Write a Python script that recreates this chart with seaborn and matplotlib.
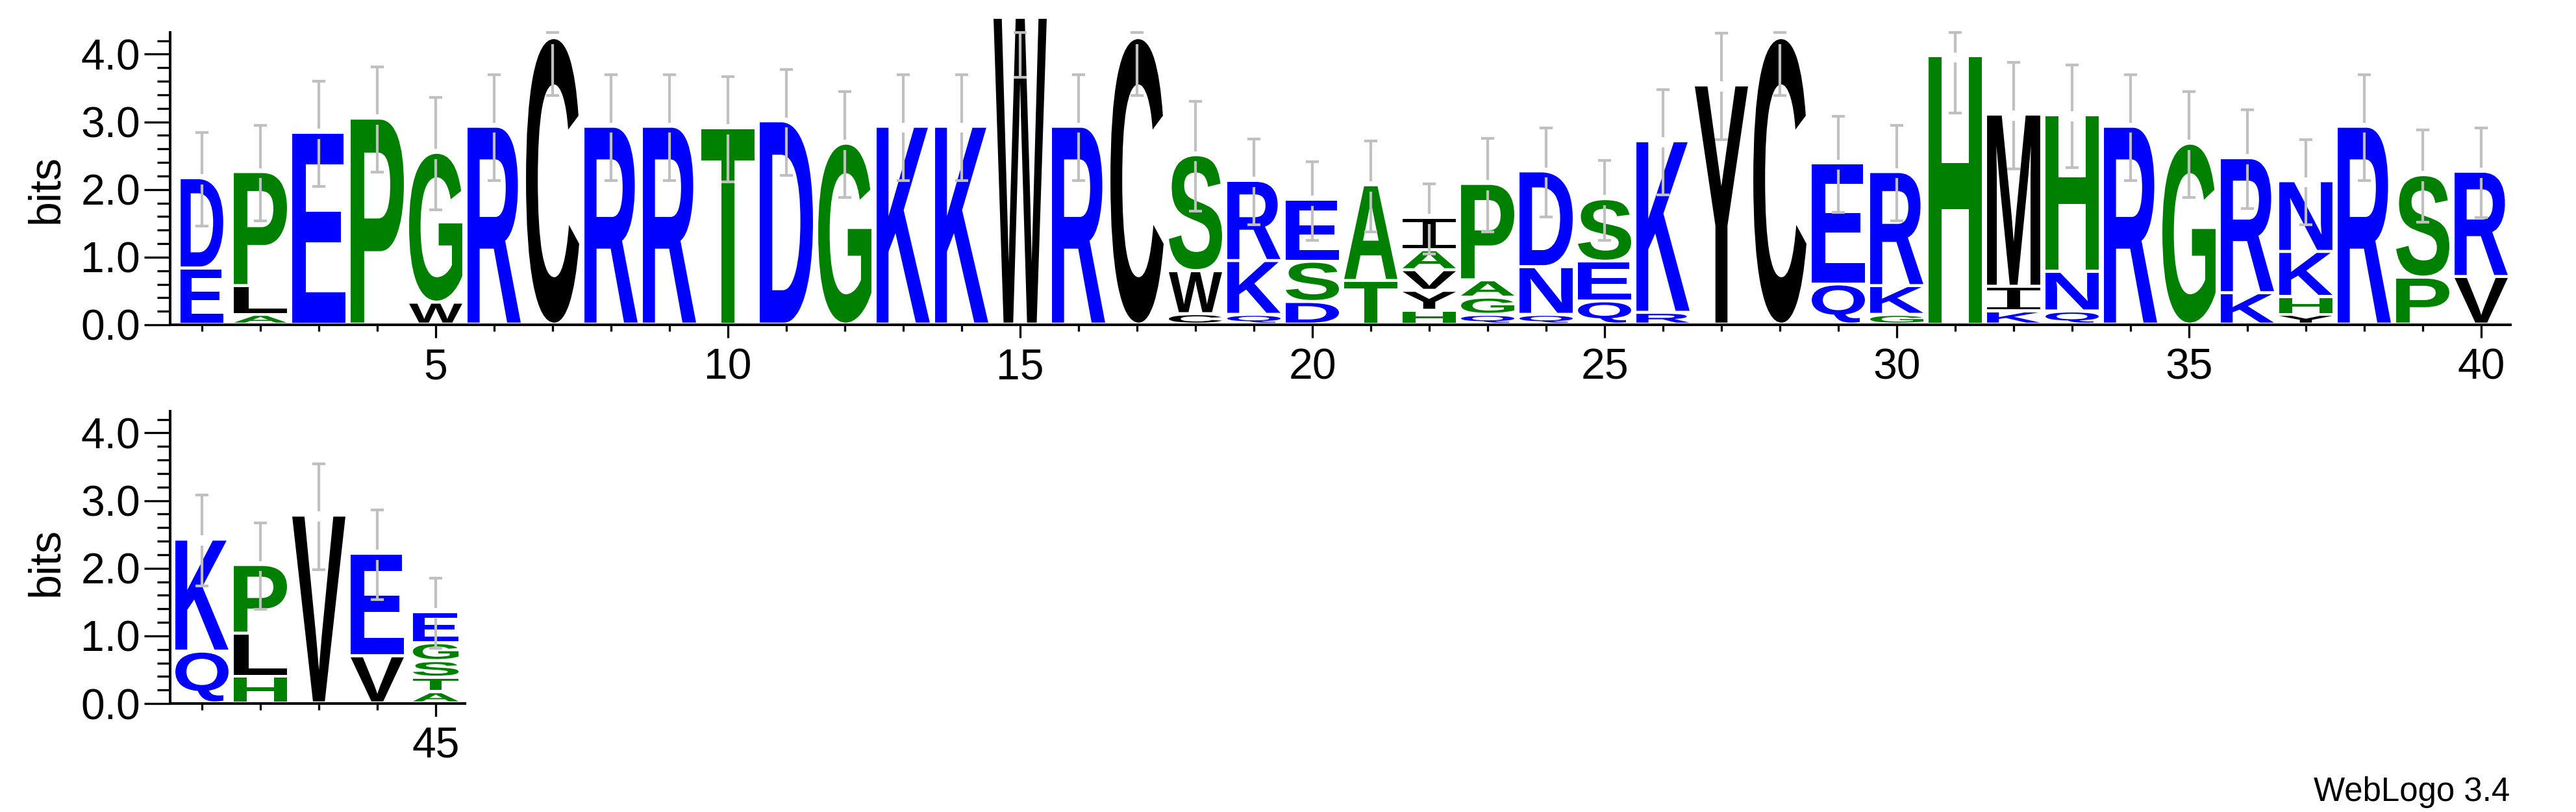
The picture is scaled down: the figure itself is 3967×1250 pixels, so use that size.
import matplotlib
matplotlib.use("Agg")
import numpy as np
import pandas as pd
import seaborn as sns
import matplotlib.pyplot as plt
from matplotlib.textpath import TextPath
from matplotlib.patches import PathPatch
from matplotlib.font_manager import FontProperties
from matplotlib.transforms import Affine2D
from matplotlib.ticker import FixedLocator, MultipleLocator

# ---------------- data ----------------
positions = list(range(1, 46))

# letters of each stack, bottom -> top
stack_letters = [
    "ED", "ALP", "E", "P", "WG", "R", "C", "R", "R", "T",
    "D", "G", "K", "K", "W", "R", "C", "CWS", "QKR", "DSE",
    "TA", "HYVAI", "QGAP", "QND", "QES", "RK", "Y", "C", "QE", "GKR",
    "H", "KIM", "QNH", "R", "G", "KR", "YHKN", "R", "PS", "VR",
    "QK", "HLP", "V", "VE", "ATSGE",
]

# height (bits) of each letter, bottom -> top
stack_heights = [
    [0.785, 1.29], [0.10, 0.38, 1.64], [2.79], [3.00], [0.28, 2.17],
    [2.88], [4.19], [2.88], [2.88], [2.86],
    [2.96], [2.63], [2.88], [2.88], [4.49],
    [2.88], [4.19], [0.11, 0.59, 1.67], [0.10, 0.75, 1.14], [0.29, 0.55, 0.87],
    [0.60, 1.37], [0.16, 0.25, 0.26, 0.25, 0.43], [0.10, 0.21, 0.21, 1.38],
    [0.10, 0.66, 1.37], [0.30, 0.54, 0.88],
    [0.13, 2.49], [3.49], [4.19], [0.55, 1.74], [0.10, 0.38, 1.64],
    [3.92], [0.15, 0.32, 2.50], [0.15, 0.54, 2.27], [2.88], [2.63],
    [0.42, 1.95], [0.10, 0.22, 0.62, 1.00], [2.88], [0.65, 1.47], [0.66, 1.51],
    [0.72, 1.61], [0.35, 0.59, 0.97], [2.73], [0.65, 1.47],
    [0.12, 0.17, 0.20, 0.22, 0.41],
]

# error bar half-lengths (bits)
error_bits = [
    0.69, 0.71, 0.78, 0.78, 0.83, 0.78, 0.83, 0.78, 0.78, 0.78,
    0.785, 0.785, 0.78, 0.78, 0.86, 0.78, 0.83, 0.81, 0.63, 0.58,
    0.67, 0.52, 0.69, 0.66, 0.59, 0.78, 0.79, 0.83, 0.71, 0.71,
    0.82, 0.79, 0.76, 0.78, 0.785, 0.73, 0.63, 0.78, 0.68, 0.665,
    0.67, 0.64, 0.78, 0.66, 0.52,
]

# stack width as a fraction of the full width (gap-weighted columns)
width_fraction = [0.80] + [1.0] * 43 + [0.86]

row_ranges = [(1, 40), (41, 45)]
ytick_labels = ["0.0", "1.0", "2.0", "3.0", "4.0"]
ylabel_text = "bits"
footer_text = "WebLogo 3.4"

colour_groups = {
    "#0000FF": "DEKRQN",
    "#008000": "PGSTAH",
    "#000000": "CWLVYIMF",
}

# ---------------- tidy table ----------------
records = []
for pos, letters, heights, w in zip(positions, stack_letters, stack_heights, width_fraction):
    for ch, h in zip(letters, heights):
        records.append({"position": pos, "letter": ch, "bits": h, "width": w})
df = pd.DataFrame(records)
colour_of = {ch: col for col, chars in colour_groups.items() for ch in chars}

# ---------------- style ----------------
sns.set_theme(style="ticks")
plt.rcParams["font.family"] = ["Liberation Sans", "DejaVu Sans"]

W_PX, H_PX, DPI = 3967, 1250, 100
PT = 72.0 / DPI  # points per pixel

fig = plt.figure(figsize=(W_PX / DPI, H_PX / DPI), dpi=DPI)
fig.patch.set_facecolor("white")

col_px = 90.0
ax_h_px = 450.0
row_bottoms_px = [500.0, 1083.0]
left_px = 266.0

glyph_font = FontProperties(family="Liberation Sans", weight="bold")
glyph_font_special = {"I": FontProperties(family="DejaVu Sans Mono", weight="normal")}
BASE = 0.032
GAP = 0.045
FULL_W = 0.91
YMAX = 4.32
ERR_GAP = 0.075
CAP_HALF = 0.115
ERR_COLOR = "#c0c0c0"


def letter_patch(ch, x0, y0, w, h, color):
    tp = TextPath((0, 0), ch, size=1, prop=glyph_font_special.get(ch, glyph_font))
    ext = tp.get_extents()
    tr = (Affine2D().translate(-ext.x0, -ext.y0)
          .scale(w / ext.width, h / ext.height)
          .translate(x0, y0))
    return PathPatch(tr.transform_path(tp), facecolor=color, edgecolor="none",
                     lw=0, clip_on=False, zorder=2)


axes = []
for (p0, p1), bottom_px in zip(row_ranges, row_bottoms_px):
    n = p1 - p0 + 1
    ax = fig.add_axes([left_px / W_PX, (H_PX - bottom_px) / H_PX,
                       n * col_px / W_PX, ax_h_px / H_PX])
    axes.append(ax)
    sub = df[(df.position >= p0) & (df.position <= p1)]
    for pos, grp in sub.groupby("position", sort=True):
        i = pos - 1
        w = FULL_W * width_fraction[i]
        base = BASE
        for _, r in grp.iterrows():
            ax.add_patch(letter_patch(r.letter, pos - w / 2, base, w, r.bits,
                                      colour_of[r.letter]))
            base += r.bits + GAP
        top = base - GAP
        err = error_bits[i]
        hi = min(top + err, YMAX)
        lo = top - err
        seg_top_start = top + ERR_GAP
        if seg_top_start < hi:
            ax.vlines(pos, seg_top_start, hi, colors=ERR_COLOR, lw=4.2 * PT,
                      zorder=3, clip_on=False)
        ax.vlines(pos, lo, min(top - ERR_GAP, hi), colors=ERR_COLOR, lw=4.2 * PT,
                  zorder=3, clip_on=False)
        ax.hlines([hi, lo], pos - CAP_HALF, pos + CAP_HALF, colors=ERR_COLOR,
                  lw=4.2 * PT, zorder=3, clip_on=False)

    ax.set_xlim(p0 - 0.5, p1 + 0.5)
    ax.set_ylim(0, YMAX)
    ax.set_facecolor("white")
    ax.grid(False)
    ax.xaxis.set_major_locator(FixedLocator([p for p in range(p0, p1 + 1) if p % 5 == 0]))
    ax.xaxis.set_minor_locator(FixedLocator(list(range(p0, p1 + 1))))
    ax.yaxis.set_major_locator(FixedLocator([0, 1, 2, 3, 4]))
    ax.set_yticklabels(ytick_labels)
    ax.yaxis.set_minor_locator(MultipleLocator(0.2))
    sns.despine(ax=ax, top=True, right=True)
    ax.spines["left"].set_position(("outward", 4 * PT))
    for s in ("left", "bottom"):
        ax.spines[s].set_linewidth(4 * PT)
        ax.spines[s].set_color("black")
    ax.tick_params(axis="y", which="major", direction="out", length=40 * PT,
                   width=3.3 * PT, color="black", labelsize=66 * PT, pad=6 * PT,
                   labelcolor="black")
    ax.tick_params(axis="y", which="minor", direction="out", length=20 * PT,
                   width=3.3 * PT, color="black")
    ax.tick_params(axis="x", which="major", direction="out", length=20 * PT,
                   width=3.3 * PT, color="black", labelsize=66 * PT, pad=15 * PT,
                   labelcolor="black")
    ax.tick_params(axis="x", which="minor", direction="out", length=10 * PT,
                   width=3.3 * PT, color="black")
    ax.set_ylabel("")

# "bits" labels
fig.text(71 / W_PX, (H_PX - 291) / H_PX, ylabel_text, rotation=90,
         ha="center", va="center", fontsize=68 * PT, color="black")
fig.text(71 / W_PX, (H_PX - 865) / H_PX, ylabel_text, rotation=90,
         ha="center", va="center", fontsize=68 * PT, color="black")

fig.text(3865 / W_PX, (H_PX - 1233) / H_PX, footer_text, ha="right",
         va="baseline", fontsize=51 * PT, color="black")

fig.savefig("out.png", dpi=DPI, facecolor="white")
